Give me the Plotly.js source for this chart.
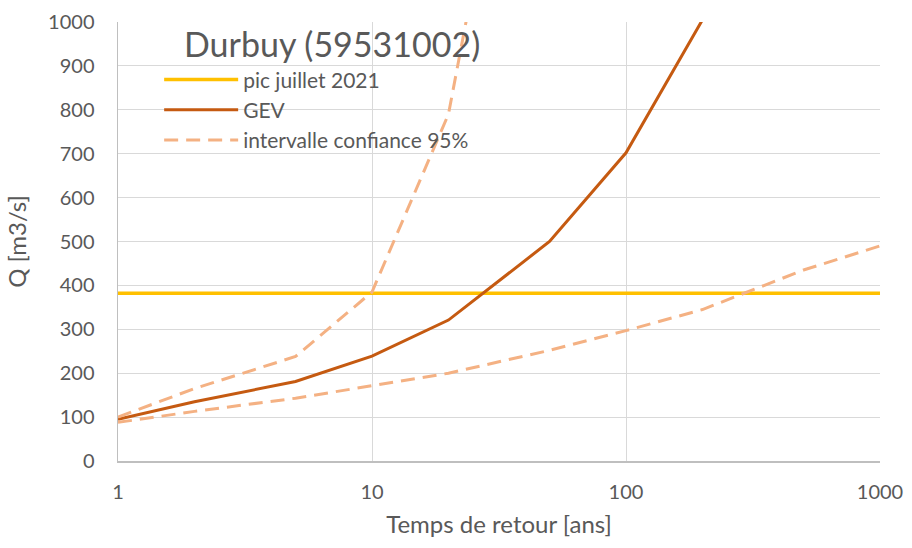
<!DOCTYPE html>
<html><head><meta charset="utf-8">
<script src="https://cdn.plot.ly/plotly-3.0.1.min.js"></script>
<style>html,body{margin:0;padding:0;background:#fff}#chart{width:912px;height:548px}</style>
</head><body><div id="chart"></div>
<script>
// Return periods (years)
const periodsGEV = [1, 2, 5, 10, 20, 50, 100, 200];
const gev = [95, 135, 181, 239, 321, 500, 702, 1005];
const periodsUpper = [1, 2, 5, 10, 20, 50];
const ciUpper = [100, 165, 238, 385, 790, 2000];
const periodsLower = [1, 2, 5, 10, 20, 50, 100, 200, 500, 1000];
const ciLower = [88, 113, 143, 172, 200, 252, 297, 345, 435, 490];
const peakPeriods = [1, 1000];
const peakJuly2021 = [382, 382];
const xTickVals = [1, 10, 100, 1000];
const xTickText = ["1", "10", "100", "1000"];

const font = "Lato, 'Open Sans', sans-serif";
const grey = "#595959";
const ciDash = "14px,8px";

const traces = [
  {x: peakPeriods, y: peakJuly2021, name: "pic juillet 2021", mode: "lines",
   line: {color: "#FFC000", width: 3.5}},
  {x: periodsGEV, y: gev, name: "GEV", mode: "lines",
   line: {color: "#C55A11", width: 3}},
  {x: periodsUpper, y: ciUpper, name: "intervalle confiance 95%", mode: "lines",
   line: {color: "#F4B183", width: 3, dash: ciDash}},
  {x: periodsLower, y: ciLower, name: "intervalle confiance 95% (bas)", mode: "lines",
   showlegend: false, line: {color: "#F4B183", width: 3, dash: ciDash}}
];

const layout = {
  width: 912, height: 548,
  margin: {l: 118, r: 32, t: 22, b: 87},
  paper_bgcolor: "#fff", plot_bgcolor: "#fff",
  font: {family: font, color: grey, size: 20},
  showlegend: true,
  legend: {x: 0.054, y: 0.915, xanchor: "left", yanchor: "top",
           bgcolor: "rgba(255,255,255,0)", font: {size: 21, color: grey},
           itemwidth: 74, tracegroupgap: 0},
  annotations: [{text: "Durbuy (59531002)", xref: "paper", yref: "paper",
                 x: 0.084, y: 0.95, xanchor: "left", yanchor: "middle",
                 showarrow: false, font: {size: 34, color: grey, family: font}}],
  xaxis: {type: "log", range: [0, 3], tickvals: xTickVals, ticktext: xTickText,
          showgrid: true, gridcolor: "#D9D9D9", gridwidth: 1,
          showline: true, linecolor: "#BFBFBF", linewidth: 1.5,
          zeroline: false, ticks: "", ticklen: 0, ticklabelstandoff: 12,
          tickfont: {size: 20, color: grey},
          title: {text: "Temps de retour [ans]", font: {size: 24, color: grey}, standoff: 14}},
  yaxis: {range: [0, 1000], dtick: 100, tick0: 0,
          showgrid: true, gridcolor: "#D9D9D9", gridwidth: 1,
          showline: true, linecolor: "#BFBFBF", linewidth: 1.5,
          zeroline: false, ticks: "", ticklen: 0, ticklabelstandoff: 18,
          tickfont: {size: 20, color: grey},
          title: {text: "Q [m3/s]", font: {size: 24, color: grey}, standoff: 14}}
};

Plotly.newPlot("chart", traces, layout, {displayModeBar: false, staticPlot: true});
</script>
</body></html>
